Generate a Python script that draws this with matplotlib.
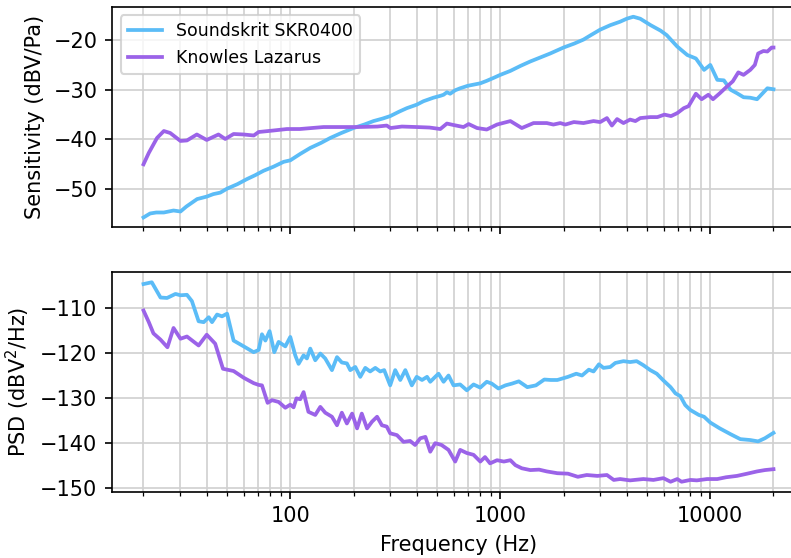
import matplotlib
matplotlib.use("Agg")
import matplotlib.pyplot as plt
from matplotlib.ticker import ScalarFormatter, NullFormatter

# ---------------- data ----------------
sens_skr_f = [20, 21.5, 23, 25, 27.8, 30, 32, 36, 40, 43, 46.4, 50, 56, 62, 68, 74.6, 83, 93, 100,
              111.6, 124.5, 140, 155, 175, 200, 225, 249, 275, 299, 330, 359, 400, 431, 480, 520,
              537, 557, 577, 610, 644, 700, 760, 803, 862, 930, 1000, 1117, 1247, 1390, 1550,
              1728, 2000, 2250, 2490, 2700, 2990, 3340, 3720, 4000, 4300, 4640, 5200, 5800, 6200,
              6960, 7770, 8540, 9340, 10000, 10800, 11600, 12500, 13400, 14400, 15500, 16700,
              18700, 20000]
sens_skr_v = [-55.7, -54.9, -54.7, -54.7, -54.3, -54.5, -53.5, -52, -51.5, -51, -50.7, -49.9, -49,
              -48, -47.2, -46.3, -45.5, -44.5, -44.2, -42.9, -41.7, -40.7, -39.7, -38.7, -37.7,
              -37, -36.3, -35.8, -35.3, -34.4, -33.7, -33, -32.3, -31.6, -31.2, -31, -30.5, -30.8,
              -30.1, -29.7, -29.2, -28.9, -28.7, -28.2, -27.6, -27, -26.2, -25.2, -24.3, -23.5,
              -22.7, -21.5, -20.7, -19.9, -19.0, -17.9, -17, -16.3, -15.7, -15.3, -15.7, -17,
              -18.1, -19, -21.3, -23, -23.7, -26, -25, -28, -28.1, -30, -30.7, -31.5, -31.6,
              -31.9, -29.7, -29.9]

sens_kn_f = [20, 21.2, 23.2, 25, 26.8, 30, 32.2, 35.9, 40, 45.5, 49, 53.7, 60, 67, 70.7, 83, 96.4,
             111, 144, 208, 260, 288, 300, 340, 400, 460, 518, 557, 600, 668, 707, 775, 862, 965,
             1117, 1266, 1440, 1665, 1790, 1930, 2040, 2240, 2490, 2780, 2990, 3220, 3400, 3600,
             3860, 4150, 4400, 4640, 5180, 5600, 6050, 6500, 6960, 7480, 7880, 8540, 9100, 9790,
             10300, 11100, 11900, 12800, 13600, 14400, 15500, 16300, 16900, 17900, 18700, 19600,
             20000]
sens_kn_v = [-45, -42.7, -39.7, -38.3, -38.7, -40.3, -40.2, -39, -40.1, -39, -39.9, -38.9, -39,
             -39.2, -38.5, -38.2, -37.9, -37.9, -37.5, -37.5, -37.4, -37.2, -37.7, -37.4, -37.5,
             -37.6, -37.9, -36.8, -37.1, -37.5, -36.9, -37.7, -38, -37, -36.3, -37.7, -36.7,
             -36.7, -37, -36.7, -37, -36.5, -36.7, -36.3, -36.5, -35.7, -37.2, -35.9, -36.7,
             -36, -36.3, -35.7, -35.5, -35.5, -35, -35.3, -34.7, -33.7, -33.3, -30.8, -31.9,
             -31, -31.9, -30.7, -29.5, -28.3, -26.5, -27, -26, -25, -22.7, -22.2, -22.3, -21.5,
             -21.5]

psd_skr_f = [20, 21.9, 24.1, 25.9, 28.4, 30, 32.2, 34, 36.6, 38.7, 40.9, 42.4, 44.8, 47.3, 50,
             53.7, 60, 66.9, 70.7, 73.3, 76.1, 79.7, 83.9, 88, 94.7, 100, 105.6, 109.5, 115.7,
             120, 124.5, 131.5, 139, 146.7, 157.9, 166.9, 176, 186, 193, 204, 215.4, 227.6, 240,
             254, 268, 280, 299, 316, 334, 353, 379, 400, 424, 448, 464, 490, 508, 537, 567, 599,
             644, 693, 746, 803, 862, 910, 980, 1058, 1138, 1225, 1345, 1478, 1620, 1740, 1870,
             2100, 2300, 2450, 2640, 2780, 2950, 3100, 3340, 3530, 3860, 4150, 4460, 4800, 5180,
             5560, 5980, 6470, 6830, 7200, 7600, 8040, 8820, 9340, 10000, 11100, 12500, 13900,
             15500, 16900, 18200, 20000]
psd_skr_v = [-104.6, -104.2, -107.6, -107.7, -106.8, -107.1, -107, -108.4, -112.9, -113.1, -112,
             -113.1, -111.4, -111.8, -111.2, -117.2, -118.5, -119.8, -119.3, -115.8, -117.2,
             -115.1, -119.8, -117.5, -118.5, -116.4, -120.5, -122.4, -120.5, -121.2, -119,
             -121.6, -120.1, -121.2, -123.8, -120.9, -122.1, -122.3, -123.8, -123.1, -125.3,
             -123.3, -124.1, -123.3, -124.1, -123.8, -127.2, -123.8, -126, -123.8, -127.2,
             -125.3, -126, -125.3, -126.4, -125.3, -124.6, -126.4, -125, -127.2, -127, -128.3,
             -127, -127.7, -126.4, -126.8, -127.9, -127.2, -126.8, -126.3, -127.6, -127.2,
             -125.9, -126, -126, -125.3, -124.6, -125, -123.7, -124.1, -122.5, -123.3, -123.1,
             -122.2, -121.8, -122, -121.8, -122.7, -123.8, -124.6, -126.1, -127.6, -129, -129.6,
             -131.6, -132.7, -133.8, -134.2, -135.5, -136.8, -138.1, -139.2, -139.4, -139.7,
             -139, -137.8]

psd_kn_f = [20, 21.2, 22.3, 24.1, 26, 27.8, 30, 32.2, 36.6, 40, 43.9, 47.8, 53.7, 60, 66.9, 70.7,
            73.3, 78, 81.8, 88, 94.7, 100, 103.7, 107, 111.6, 115.7, 122, 131.5, 139, 146.7,
            157.9, 166.9, 176, 186, 197, 208, 219, 232, 245, 259, 273, 288, 299, 322, 346, 372,
            393, 416, 440, 464, 490, 525, 567, 610, 644, 693, 746, 803, 846, 894, 965, 1040, 1117,
            1180, 1266, 1390, 1530, 1665, 1870, 2100, 2340, 2580, 2900, 3220, 3470, 3720, 4150,
            4800, 5360, 5980, 6470, 6960, 7300, 8040, 8630, 9660, 10800, 11900, 13400, 15000,
            16700, 18200, 20000]
psd_kn_v = [-110.5, -113.1, -115.6, -117, -118.7, -114.4, -116.8, -116.3, -118.3, -115.9, -117.9,
            -123.5, -124, -125.5, -126.7, -127.1, -127.2, -131.1, -130.5, -130.9, -132.2, -131.5,
            -132.1, -130.1, -130.3, -128.7, -133.1, -133.8, -132, -133.3, -134.2, -136.1, -133.3,
            -135.7, -133.5, -136.8, -133.5, -136.8, -135.3, -134.2, -136.1, -136.4, -137.9,
            -138.3, -139.8, -139.6, -140.5, -139, -138.7, -142, -140.1, -140.5, -141.6, -144.2,
            -141.6, -142.3, -142.7, -144.2, -143.2, -144.6, -143.9, -144.2, -143.9, -145, -145.7,
            -146.1, -146, -146.4, -146.8, -146.9, -147.6, -147.2, -147.4, -147.2, -148.3, -148.1,
            -148.4, -148.1, -148.3, -147.9, -148.7, -148.1, -148.7, -148.3, -148.4, -148.1,
            -148.1, -147.7, -147.4, -146.9, -146.4, -146.1, -145.9]

labels = ["Soundskrit SKR0400", "Knowles Lazarus"]
colors = ["#5BBCF7", "#9B63E8"]

# ---------------- plot ----------------
DPI = 150
W, H = 791, 558
fig = plt.figure(figsize=(W / DPI, H / DPI), dpi=DPI)
x0, x1 = 112 / W, 805 / W
ax1 = fig.add_axes([x0, 1 - 227.5 / H, x1 - x0, 220.8 / H])
ax2 = fig.add_axes([x0, 1 - 491.7 / H, x1 - x0, 219.4 / H], sharex=ax1)

LW = 1.8
ax1.plot(sens_skr_f, sens_skr_v, color=colors[0], lw=LW, label=labels[0])
ax1.plot(sens_kn_f, sens_kn_v, color=colors[1], lw=LW, label=labels[1])
ax2.plot(psd_skr_f, psd_skr_v, color=colors[0], lw=LW)
ax2.plot(psd_kn_f, psd_kn_v, color=colors[1], lw=LW)

for ax in (ax1, ax2):
    ax.set_xscale("log")
    ax.grid(True, which="both", axis="x", color="#d0d0d0", lw=0.8)
    ax.grid(True, which="major", axis="y", color="#d0d0d0", lw=0.8)
    ax.set_axisbelow(True)
    ax.xaxis.set_major_formatter(ScalarFormatter())
    ax.xaxis.set_minor_formatter(NullFormatter())

ax1.set_yticks([-50, -40, -30, -20])
ax2.set_yticks([-150, -140, -130, -120, -110])
plt.setp(ax1.get_xticklabels(), visible=False)

ax1.set_ylabel("Sensitivity (dBV/Pa)")
ax2.set_ylabel("PSD (dBV$^2$/Hz)")
ax2.set_xlabel("Frequency (Hz)")
ax1.legend(loc="upper left", fontsize="small")

fig.savefig("out.png", dpi=DPI)
